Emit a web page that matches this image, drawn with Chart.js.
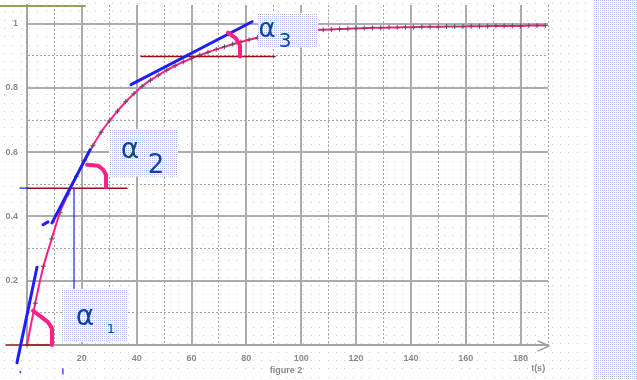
<!DOCTYPE html>
<html><head><meta charset="utf-8">
<script src="https://cdn.jsdelivr.net/npm/chart.js@4.4.0/dist/chart.umd.min.js"></script>
<style>
html,body{margin:0;padding:0;background:#fff;}
body{width:637px;height:380px;overflow:hidden;}
canvas{display:block;}
</style></head>
<body>
<canvas id="c" width="637" height="380"></canvas>
<script>
// ---- data ----
const times = [0,3,6,9,12,15,18,21,24,27,30,33,36,39,42,45,48,51,54,57,60,63,66,69,72,75,78,81,84,87,90,93,96,99,102,105,108,111,114,117,120,123,126,129,132,135,138,141,144,147,150,153,156,159,162,165,168,171,174,177,180,183,186,189];
const values = [0.000,0.130,0.245,0.330,0.412,0.470,0.525,0.575,0.620,0.662,0.697,0.728,0.757,0.782,0.805,0.824,0.840,0.855,0.869,0.881,0.892,0.902,0.911,0.920,0.928,0.936,0.943,0.950,0.956,0.961,0.965,0.969,0.972,0.975,0.978,0.980,0.981,0.982,0.983,0.984,0.985,0.986,0.987,0.987,0.988,0.988,0.989,0.989,0.990,0.990,0.990,0.991,0.991,0.991,0.992,0.992,0.992,0.993,0.993,0.993,0.993,0.994,0.994,0.994];
const xTickLabels = [20,40,60,80,100,120,140,160,180];
const yTickLabels = [0.2,0.4,0.6,0.8,1];

// ---- annotations (data units) ----
const tangents = [ [[-3.65,-0.055],[3.65,0.242]], [[9.12,0.380],[22.98,0.607]], [[5.84,0.374],[7.66,0.383]], [[37.93,0.810],[82.06,1.006]] ];
const horizontals = [ [[-7.66,0.0],[9.48,0.0]], [[0.0,0.488],[36.47,0.488]], [[41.58,0.898],[90.45,0.898]] ];
const thinBlue = [ [[17.14,0.488],[17.14,0.175]], [[-2.55,0.488],[0.4,0.488]], [[13.1,-0.074],[13.1,-0.090]], [[-2.55,-0.082],[-2.3,-0.086]] ];
const arcs = [ [[2.19,0.107],[7.66,0.071],[9.12,0.052],[9.12,0.0]], [[21.88,0.561],[25.89,0.558],[27.72,0.546],[28.81,0.530],[28.81,0.491]], [[73.3,0.972],[76.2,0.954],[77.68,0.932],[77.68,0.898]] ];
const boxes = [ [12.76,0.175,36.83,0.0092], [29.9,0.672,55.07,0.524], [84.25,1.033,106.13,0.926] ];
const alphaLabels = [ ['α',21.15,0.0613,28], ['1',30.63,0.0368,13], ['α',37.56,0.5826,28], ['2',47.05,0.5366,26], ['α',87.53,0.9598,26], ['3',94.09,0.926,20] ];

function ditherPattern(ctx, col){
  const p=document.createElement('canvas'); p.width=2; p.height=2;
  const g=p.getContext('2d'); g.fillStyle='#fff'; g.fillRect(0,0,2,2);
  g.fillStyle=col; g.fillRect(0,0,1,1);
  return ctx.createPattern(p,'repeat');
}

const deco = {
  id:'deco',
  beforeDraw(chart){
    const ctx=chart.ctx;
    ctx.save();
    ctx.fillStyle='#c9c9c9';
    for(let x=4;x<593;x+=8.3){ for(let y=3;y<380;y+=8.3){ ctx.fillRect(Math.round(x),Math.round(y),1,1);} }
    ctx.fillStyle=ditherPattern(ctx,'#a6bfee');
    ctx.fillRect(593,0,44,380);
    ctx.restore();
  },
  afterDatasetsDraw(chart){
    const ctx=chart.ctx, xs=chart.scales.x, ys=chart.scales.y;
    const P=(p)=>[xs.getPixelForValue(p[0]), ys.getPixelForValue(p[1])];
    const poly=(pts,col,w)=>{ctx.beginPath(); pts.forEach((p,i)=>{const q=P(p); i?ctx.lineTo(q[0],q[1]):ctx.moveTo(q[0],q[1]);}); ctx.strokeStyle=col; ctx.lineWidth=w; ctx.stroke();};
    ctx.save();
    ctx.lineCap='round'; ctx.lineJoin='round';
    poly([[-9.85,1.055],[21.15,1.055]],'#9b9b62',2);
    poly([[186.4,0.0123],[190.4,-0.003],[186.4,-0.0184]],'#a0a0a0',1.5);
    horizontals.forEach(l=>poly(l,'#9a1010',1.5));
    thinBlue.forEach(l=>poly(l,'#1d1dff',1.2));
    tangents.forEach(l=>poly(l,'#1d1dff',3));
    arcs.forEach(l=>poly(l,'#ff1f85',4));
    ctx.fillStyle=ditherPattern(ctx,'#a6bfee');
    boxes.forEach(b=>{const a=P([b[0],b[1]]), c=P([b[2],b[3]]); ctx.fillRect(a[0],a[1],c[0]-a[0],c[1]-a[1]);});
    ctx.fillStyle='#0c4a82'; ctx.textAlign='center'; ctx.textBaseline='alphabetic';
    alphaLabels.forEach(l=>{const q=P([l[1],l[2]]); ctx.font=l[3]+'px "DejaVu Sans"'; ctx.fillText(l[0],q[0],q[1]);});
    ctx.fillStyle='#8a8a8a'; ctx.font='bold 9px "Liberation Sans"'; ctx.textBaseline='middle';
    let q=P([94.46,-0.0797]); ctx.fillText('figure 2',q[0],q[1]);
    q=P([186.4,-0.0736]); ctx.fillText('t(s)',q[0],q[1]);
    ctx.restore();
  }
};

const isMajorX = v => Math.round(v)%20===0;
const isMajorY = v => Math.round(v*10)%2===0;

new Chart(document.getElementById('c'), {
  type:'scatter',
  data:{ datasets:[{
    data: times.map((t,i)=>({x:t,y:values[i]})),
    showLine:true, borderColor:'#ff1f85', borderWidth:2, tension:0.2,
    pointStyle:'cross', pointRadius:2.5, pointBorderColor:'#555', pointBorderWidth:1, clip:false
  }]},
  options:{
    responsive:false, animation:false,
    layout:{padding:{left:0,right:89,top:0,bottom:0}},
    plugins:{legend:{display:false}, tooltip:{enabled:false}},
    scales:{
      x:{ type:'linear', min:0, max:190,
        afterBuildTicks:s=>{ s.ticks=[]; for(let v=0; v<=190; v+=10) s.ticks.push({value:v}); },
        afterFit:s=>{ s.height=35; s.paddingLeft=0; s.paddingRight=0; },
        grid:{ drawTicks:false, color:c=>c.tick&&isMajorX(c.tick.value)?'#acacac':'#a3a3ab', lineWidth:c=>c.tick&&isMajorX(c.tick.value)?2:1 },
        border:{ color:'#a4a4a4', width:2, dash:c=>(c.tick&&!isMajorX(c.tick.value))?[2,2]:[] },
        ticks:{ autoSkip:false, maxRotation:0, padding:8, color:'#8a8a8a', font:{family:'Liberation Sans',size:9,weight:'bold'},
          callback:v=>xTickLabels.includes(Math.round(v))?String(Math.round(v)):'' }
      },
      y:{ type:'linear', min:0, max:1.058,
        afterBuildTicks:s=>{ s.ticks=[]; for(let k=0;k<=10;k++) s.ticks.push({value:k/10}); },
        afterFit:s=>{ s.width=27; s.paddingTop=0; s.paddingBottom=0; },
        grid:{ drawTicks:false, color:c=>c.tick&&isMajorY(c.tick.value)?'#acacac':'#a3a3ab', lineWidth:c=>c.tick&&isMajorY(c.tick.value)?2:1 },
        border:{ color:'#a4a4a4', width:2, dash:c=>(c.tick&&!isMajorY(c.tick.value))?[2,2]:[] },
        ticks:{ padding:9, color:'#8a8a8a', font:{family:'Liberation Sans',size:9,weight:'bold'},
          callback:v=>{ const f=yTickLabels.find(u=>Math.abs(u-v)<1e-6); return f===undefined?'':(f===1?'1':f.toFixed(1)); } }
      }
    }
  },
  plugins:[deco]
});
</script>
</body></html>
